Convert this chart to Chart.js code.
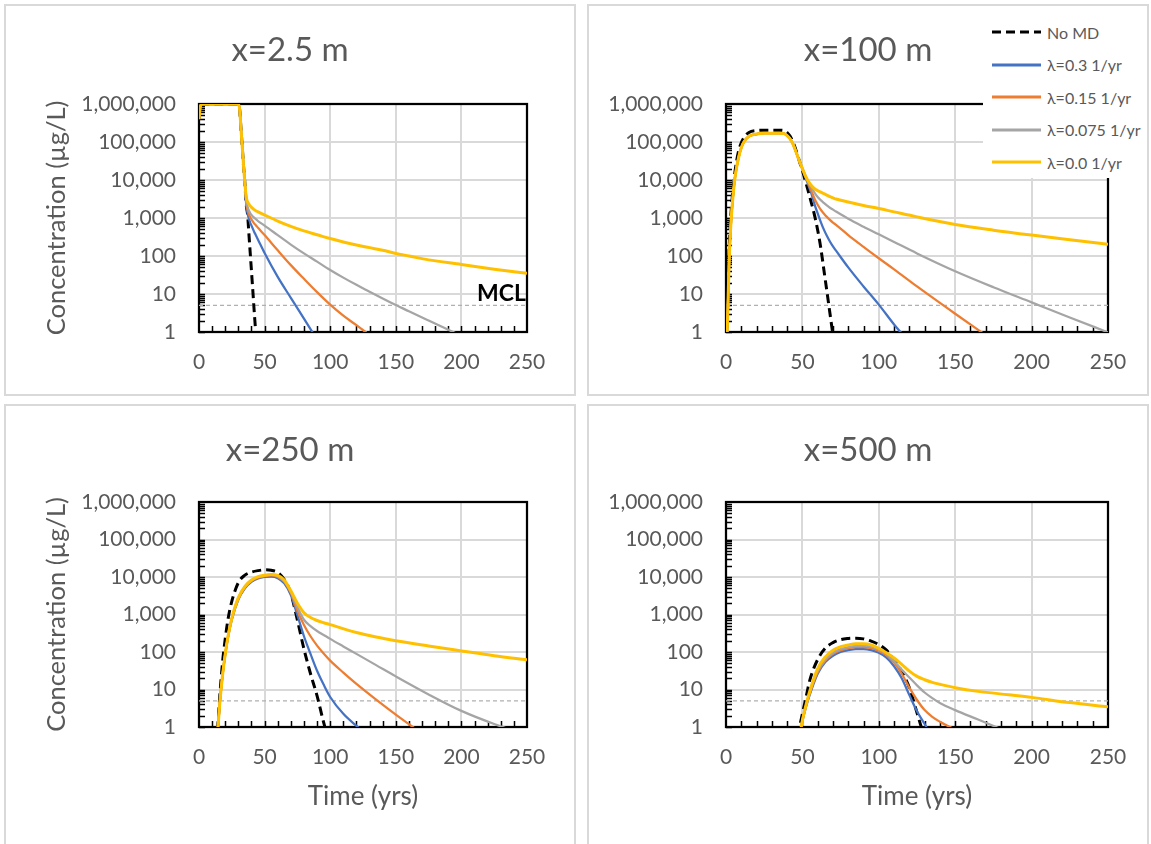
<!DOCTYPE html>
<html>
<head>
<meta charset="utf-8">
<script src="https://cdn.jsdelivr.net/npm/chart.js@4.4.1/dist/chart.umd.min.js"></script>
<style>
  html, body { margin:0; padding:0; background:#fff; }
  body { width:1151px; height:844px; position:relative; overflow:hidden; font-family: Lato, 'Open Sans', sans-serif; }
  .panel { position:absolute; box-sizing:border-box; border:2px solid #d9d9d9; background:#fff; }
  .panel canvas { position:absolute; left:0; top:0; }
  #legend { position:absolute; background:#fff; }
  .lg-row { position:absolute; left:0; height:20px; display:flex; align-items:center; }
  .lg-row svg { margin-left:9px; }
  .lg-row span { font-size:16px; color:#595959; margin-left:6px; white-space:nowrap; }
</style>
</head>
<body>
<div class="panel" style="left:4px;top:4px;width:572px;height:392px"><canvas id="c1" width="568" height="388"></canvas></div>
<div class="panel" style="left:587px;top:4px;width:562px;height:392px"><canvas id="c2" width="558" height="388"></canvas></div>
<div class="panel" style="left:4px;top:404px;width:572px;height:450px"><canvas id="c3" width="568" height="437"></canvas></div>
<div class="panel" style="left:587px;top:404px;width:562px;height:450px"><canvas id="c4" width="558" height="437"></canvas></div>
<div id="legend" style="left:983px;top:14px;width:163px;height:164px"></div>
<script>
// ---------- tick labels / names ----------
const yTickValues = [1, 10, 100, 1000, 10000, 100000, 1000000];
const yTickLabels = ['1', '10', '100', '1,000', '10,000', '100,000', '1,000,000'];
const xTickValues = [0, 50, 100, 150, 200, 250];
const xTickLabels = ['0', '50', '100', '150', '200', '250'];
const seriesNames = ['No MD', 'λ=0.3 1/yr', 'λ=0.15 1/yr', 'λ=0.075 1/yr', 'λ=0.0 1/yr'];
const panelTitles = ['x=2.5 m', 'x=100 m', 'x=250 m', 'x=500 m'];
const yAxisTitle = 'Concentration (µg/L)';
const xAxisTitle = 'Time (yrs)';
const mclText = 'MCL';
const mclTime = [0, 250];
const mclConc = [5, 5];

// ---------- panel 1: x = 2.5 m ----------
const p1Time = [0, 1, 2, 3, 5, 10, 20, 30, 31, 32, 33, 34, 35, 36, 37, 38, 39, 40, 41, 42, 43, 44, 45, 50, 60, 70, 80, 90, 100, 110, 120, 130, 140, 150, 160, 175, 200, 225, 250];
const p1NoMD = [4.0e5, 8.5e5, 9.8e5, 1e6, 1e6, 1e6, 1e6, 1e6, 7.1e5, 2.2e5, 7.1e4, 2.2e4, 7.9e3, 2240, 1260, 398, 126, 39.8, 12.6, 3.8, 1.26, 0.4, null, null, null, null, null, null, null, null, null, null, null, null, null, null, null, null, null];
const p1L03 = [4.0e5, 8.5e5, 9.8e5, 1e6, 1e6, 1e6, 1e6, 1e6, 7.1e5, 2.2e5, 7.1e4, 2.2e4, 7.9e3, 2240, 1320, 955, 759, 631, 525, 437, 372, 316, 269, 120, 28.2, 7.9, 2.24, 0.63, null, null, null, null, null, null, null, null, null, null, null];
const p1L015 = [4.0e5, 8.5e5, 9.8e5, 1e6, 1e6, 1e6, 1e6, 1e6, 7.1e5, 2.2e5, 7.1e4, 2.2e4, 7.9e3, 2510, 1660, 1260, 1050, 912, 813, 724, 661, 603, 550, 355, 141, 57.5, 25.1, 11.2, 5.25, 2.69, 1.51, 0.83, null, null, null, null, null, null, null];
const p1L0075 = [4.0e5, 8.5e5, 9.8e5, 1e6, 1e6, 1e6, 1e6, 1e6, 7.1e5, 2.2e5, 7.1e4, 2.2e4, 7.9e3, 2820, 2000, 1580, 1350, 1200, 1100, 1020, 955, 891, 832, 631, 355, 200, 117, 71, 43, 27, 17.4, 11.5, 7.6, 5.1, 3.5, 2.0, 0.79, null, null];
const p1L0 = [4.0e5, 8.5e5, 9.8e5, 1e6, 1e6, 1e6, 1e6, 1e6, 7.1e5, 2.2e5, 7.1e4, 2.2e4, 7.9e3, 3550, 2690, 2340, 2090, 1910, 1780, 1660, 1580, 1510, 1450, 1200, 832, 603, 457, 363, 288, 234, 195, 166, 141, 117, 100, 79, 60, 45, 35];

// ---------- panel 2: x = 100 m ----------
const p2Time = [0, 1, 2, 3, 4, 5, 6, 8, 10, 12, 15, 20, 25, 30, 35, 38, 40, 42, 44, 46, 48, 50, 52, 54, 56, 58, 60, 62, 64, 66, 68, 70, 72, 80, 90, 100, 110, 125, 150, 175, 200, 225, 250];
const p2NoMD = [0.1, 4.0, 126, 891, 3160, 7940, 17800, 52500, 95500, 135000, 178000, 200000, 204000, 204000, 204000, 200000, 178000, 141000, 95500, 57500, 31600, 17800, 9330, 4790, 2400, 1150, 479, 166, 44.7, 12.0, 3.16, 0.83, null, null, null, null, null, null, null, null, null, null, null];
const p2L03 = [0.1, 2.0, 63, 501, 2000, 5620, 12600, 35500, 70800, 105000, 141000, 162000, 170000, 170000, 170000, 166000, 148000, 120000, 85100, 52500, 31600, 19100, 11700, 7080, 4270, 2240, 1320, 794, 501, 339, 240, 178, 138, 50.1, 15.8, 5.25, 1.58, 0.32, null, null, null, null, null];
const p2L015 = [0.1, 2.0, 63, 501, 2000, 5620, 12600, 35500, 70800, 105000, 141000, 162000, 170000, 170000, 170000, 166000, 148000, 120000, 85100, 52500, 31600, 20000, 12600, 7940, 5010, 3160, 2240, 1660, 1320, 1070, 891, 759, 661, 355, 174, 87.1, 44.7, 15.8, 3.02, 0.6, null, null, null];
const p2L0075 = [0.1, 2.0, 63, 501, 2000, 5620, 12600, 35500, 70800, 105000, 141000, 162000, 170000, 170000, 170000, 166000, 148000, 120000, 85100, 52500, 31600, 20000, 13200, 8910, 6310, 4570, 3550, 2950, 2510, 2140, 1860, 1660, 1480, 955, 589, 372, 234, 117, 39.8, 15.1, 6.03, 2.4, 0.98];
const p2L0 = [0.1, 2.0, 63, 501, 2000, 5620, 12600, 35500, 70800, 105000, 141000, 162000, 170000, 170000, 170000, 166000, 148000, 120000, 85100, 52500, 31600, 20000, 12600, 9120, 7080, 5890, 5250, 4790, 4370, 3980, 3630, 3390, 3160, 2630, 2140, 1780, 1450, 1070, 676, 479, 355, 269, 204];

// ---------- panel 3: x = 250 m ----------
const p3Time = [10, 14, 16, 18, 20, 22, 25, 30, 35, 40, 45, 50, 55, 60, 65, 70, 75, 80, 85, 90, 95, 100, 110, 120, 135, 150, 175, 200, 225, 250];
const p3NoMD = [0.063, 0.79, 7.94, 56.2, 224, 708, 2240, 7080, 11200, 13500, 14800, 15500, 15100, 13200, 8510, 3630, 708, 120, 26.3, 6.76, 1.32, 0.32, null, null, null, null, null, null, null, null];
const p3L03 = [0.032, 0.63, 5.01, 25.1, 85.1, 234, 724, 2510, 5010, 7410, 9120, 10000, 10200, 9330, 6760, 3310, 955, 263, 89.1, 31.6, 13.5, 6.31, 2.24, 1.07, 0.4, null, null, null, null, null];
const p3L015 = [0.032, 0.63, 5.01, 25.1, 87.1, 240, 759, 2630, 5250, 7760, 9550, 10500, 11000, 10000, 7410, 3800, 1260, 525, 263, 148, 91.2, 58.9, 28.2, 14.1, 5.37, 2.14, 0.5, null, null, null];
const p3L0075 = [0.032, 0.63, 5.01, 25.1, 89.1, 245, 776, 2750, 5500, 8130, 10000, 11000, 11500, 10500, 7940, 3980, 1580, 724, 490, 363, 285, 224, 141, 89.1, 44.7, 22.4, 7.41, 2.69, 1.2, 0.6];
const p3L0 = [0.032, 0.63, 5.01, 25.1, 89.1, 251, 794, 2820, 5620, 8320, 10200, 11200, 11700, 11000, 8320, 4270, 2000, 1120, 832, 692, 603, 537, 417, 331, 251, 200, 145, 107, 79.4, 61.7];

// ---------- panel 4: x = 500 m ----------
const p4Time = [45, 48, 50, 52, 55, 60, 65, 70, 75, 80, 85, 90, 95, 100, 105, 110, 115, 120, 125, 130, 135, 140, 150, 165, 185, 200, 225, 250];
const p4NoMD = [0.1, 0.89, 2.24, 5.25, 18.6, 63.1, 126, 178, 214, 229, 234, 224, 195, 158, 112, 63.1, 30.2, 11.2, 2.4, 0.5, null, null, null, null, null, null, null, null];
const p4L03 = [0.1, 0.5, 1.41, 3.02, 7.59, 26.3, 53.7, 79.4, 100, 112, 120, 120, 112, 95.5, 70.8, 41.7, 20, 7.08, 2.63, 1.2, 0.5, null, null, null, null, null, null, null];
const p4L015 = [0.1, 0.52, 1.48, 3.16, 8.32, 28.8, 58.9, 89.1, 112, 126, 135, 135, 126, 107, 83.2, 52.5, 26.3, 11.2, 5.25, 2.82, 1.86, 1.38, 0.85, null, null, null, null, null];
const p4L0075 = [0.1, 0.56, 1.51, 3.31, 8.91, 31.6, 63.1, 95.5, 120, 135, 145, 148, 138, 117, 89.1, 57.5, 33.9, 20.9, 12.9, 8.32, 5.89, 4.37, 2.82, 1.58, 0.72, null, null, null];
const p4L0 = [0.1, 0.5, 1.51, 3.39, 9.55, 36.3, 74.1, 112, 138, 155, 166, 166, 155, 126, 95.5, 69.2, 46.8, 30.9, 22.4, 18.2, 15.5, 13.8, 11.2, 8.91, 7.24, 6.17, 4.47, 3.47];

// ---------- styling ----------
const FONT = "Lato, 'Open Sans', sans-serif";
const TEXT = '#595959';
const seriesColors = ['#000000', '#4472C4', '#ED7D31', '#A5A5A5', '#FFC000'];
const seriesWidths = [3, 2.25, 2.25, 2.25, 3];
Chart.defaults.font.family = FONT;

const framePlugin = {
  id: 'frame',
  beforeDatasetsDraw(chart) {
    const {ctx, chartArea: a, scales: {x, y}} = chart;
    ctx.save();
    ctx.strokeStyle = '#000';
    ctx.lineWidth = 1.5;
    ctx.beginPath();
    for (let i = 0; i < yTickValues.length - 1; i++) {
      for (let k = 1; k < 10; k++) {
        const py = Math.round(y.getPixelForValue(yTickValues[i] * k)) + 0.5;
        ctx.moveTo(a.left, py); ctx.lineTo(a.left + 6, py);
      }
    }
    const xmin = xTickValues[0], xmax = xTickValues[xTickValues.length - 1];
    for (let v = xmin + 10; v < xmax; v += 10) {
      const px = Math.round(x.getPixelForValue(v)) + 0.5;
      ctx.moveTo(px, a.bottom); ctx.lineTo(px, a.bottom - 6);
    }
    ctx.stroke();
    ctx.lineWidth = 2.25;
    ctx.strokeRect(a.left, a.top, a.right - a.left, a.bottom - a.top);
    ctx.restore();
  },
  afterDatasetsDraw(chart, args, opts) {
    if (!opts || !opts.mcl) return;
    const {ctx, scales: {x, y}} = chart;
    ctx.save();
    ctx.font = 'bold 23px ' + FONT;
    ctx.fillStyle = '#000';
    ctx.textAlign = 'right';
    ctx.textBaseline = 'middle';
    ctx.fillText(mclText, x.getPixelForValue(xTickValues[xTickValues.length - 1]) - 1, y.getPixelForValue(10));
    ctx.restore();
  }
};

function buildChart(id, title, times, series, cfg) {
  const datasets = series.map((vals, k) => ({
    label: seriesNames[k],
    data: times.map((t, i) => ({x: t, y: vals[i]})),
    borderColor: seriesColors[k],
    backgroundColor: seriesColors[k],
    borderWidth: seriesWidths[k],
    borderDash: k === 0 ? [9, 5] : [],
    pointRadius: 0,
    fill: false,
    cubicInterpolationMode: 'monotone',
    order: series.length - k
  }));
  datasets.push({
    label: 'MCL',
    data: mclTime.map((t, i) => ({x: t, y: mclConc[i]})),
    borderColor: '#b0b0b0',
    borderWidth: 1.25,
    borderDash: [4, 3],
    pointRadius: 0,
    fill: false,
    order: 10
  });
  return new Chart(document.getElementById(id), {
    type: 'line',
    data: { datasets },
    plugins: [framePlugin],
    options: {
      responsive: false,
      animation: false,
      devicePixelRatio: 1,
      events: [],
      layout: { padding: 0 },
      plugins: {
        legend: { display: false },
        tooltip: { enabled: false },
        title: {
          display: true, text: title, color: TEXT,
          font: { family: FONT, size: 33, weight: 'normal' },
          padding: { top: cfg.titleTop, bottom: cfg.titleBottom }
        },
        frame: { mcl: cfg.mcl }
      },
      scales: {
        x: {
          type: 'linear', min: xTickValues[0], max: xTickValues[xTickValues.length - 1],
          afterBuildTicks: s => { s.ticks = xTickValues.map(v => ({value: v})); },
          ticks: { color: TEXT, font: { size: 21 }, padding: 17.4, maxRotation: 0, autoSkip: false,
                   callback: (v, i) => xTickLabels[i] },
          grid: { color: '#d9d9d9', lineWidth: 2, drawTicks: false },
          border: { display: false },
          title: { display: cfg.xTitle, text: xAxisTitle, color: TEXT, font: { size: 26 },
                   padding: { top: 0, bottom: 30.7 } },
          afterFit: s => { s.height = cfg.xHeight; }
        },
        y: {
          type: 'logarithmic', min: yTickValues[0], max: yTickValues[yTickValues.length - 1],
          afterBuildTicks: s => { s.ticks = yTickValues.map(v => ({value: v})); },
          ticks: { color: TEXT, font: { size: 21 }, padding: 23, autoSkip: false,
                   callback: (v, i) => yTickLabels[i] },
          grid: { color: '#d9d9d9', lineWidth: 2, drawTicks: false },
          border: { display: false },
          title: { display: cfg.yTitle, text: yAxisTitle, color: TEXT, font: { size: 25.5 },
                   padding: { top: 35.7, bottom: 0 } },
          afterFit: s => { s.width = cfg.yWidth; }
        },
        rightSpace: {
          type: 'linear', position: 'right', display: true,
          grid: { display: false }, ticks: { display: false }, border: { display: false },
          afterFit: s => { s.width = cfg.padRight; }
        }
      }
    }
  });
}

buildChart('c1', panelTitles[0], p1Time, [p1NoMD, p1L03, p1L015, p1L0075, p1L0],
  { padRight: 47, titleTop: 24.2, titleBottom: 34.2, yWidth: 193, xHeight: 62, yTitle: true, xTitle: false, mcl: true });
buildChart('c2', panelTitles[1], p2Time, [p2NoMD, p2L03, p2L015, p2L0075, p2L0],
  { padRight: 39, titleTop: 24.2, titleBottom: 34.2, yWidth: 137, xHeight: 62, yTitle: false, xTitle: false, mcl: false });
buildChart('c3', panelTitles[2], p3Time, [p3NoMD, p3L03, p3L015, p3L0075, p3L0],
  { padRight: 47, titleTop: 24.2, titleBottom: 32.2, yWidth: 193, xHeight: 116, yTitle: true, xTitle: true, mcl: false });
buildChart('c4', panelTitles[3], p4Time, [p4NoMD, p4L03, p4L015, p4L0075, p4L0],
  { padRight: 39, titleTop: 24.2, titleBottom: 32.2, yWidth: 137, xHeight: 116, yTitle: false, xTitle: true, mcl: false });

// ---------- legend (panel 2) ----------
const legend = document.getElementById('legend');
seriesNames.forEach((name, k) => {
  const row = document.createElement('div');
  row.className = 'lg-row';
  row.style.top = (18.3 + k * 32.5 - 10) + 'px';
  const dash = k === 0 ? ' stroke-dasharray="9,5"' : '';
  row.innerHTML = '<svg width="49" height="6"><line x1="0" y1="3" x2="49" y2="3" stroke="' + seriesColors[k] +
    '" stroke-width="3"' + dash + '/></svg><span></span>';
  row.querySelector('span').textContent = name;
  legend.appendChild(row);
});
</script>
</body>
</html>
